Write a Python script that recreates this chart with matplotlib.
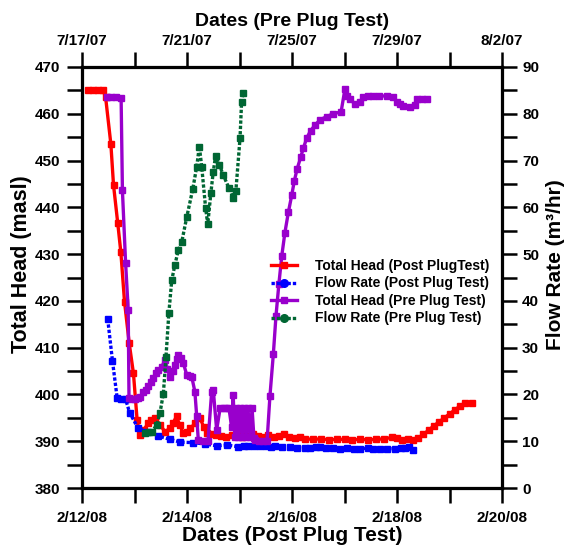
import matplotlib
matplotlib.use("Agg")
import matplotlib.pyplot as plt
from matplotlib.lines import Line2D
from matplotlib.ticker import MultipleLocator
import pandas as pd

plt.rcParams['font.family'] = ['Liberation Sans', 'DejaVu Sans']
plt.rcParams['font.weight'] = 'bold'

# ---------------- data ----------------
# Post plug test (days after 2008-02-12 00:00)
post_head_days = [0.11, 0.2, 0.3, 0.4, 0.45, 0.55, 0.6, 0.68, 0.74, 0.81, 0.9, 0.98,
                  1.05, 1.1, 1.18, 1.26, 1.32, 1.39, 1.49, 1.58, 1.68, 1.74, 1.8, 1.86,
                  1.93, 2.0, 2.06, 2.16, 2.25, 2.32, 2.38, 2.45, 2.55, 2.65, 2.75, 2.85,
                  2.95, 3.05, 3.15, 3.25, 3.35, 3.45, 3.55, 3.65, 3.75, 3.85, 3.95, 4.05,
                  4.15, 4.25, 4.4, 4.55, 4.7, 4.85, 5.0, 5.15, 5.3, 5.45, 5.6, 5.75,
                  5.9, 6.0, 6.1, 6.2, 6.3, 6.4, 6.5, 6.6, 6.7, 6.8, 6.9, 7.0,
                  7.1, 7.2, 7.3, 7.42]
post_head = [465, 465, 465, 465, 463.5, 453.5, 444.8, 436.7, 430.4, 419.8, 410.9, 404.5,
             394.5, 391.3, 392.5, 393.8, 394.5, 394.9, 393.5, 392, 392.8, 394, 395.3, 393.5,
             391.7, 392, 392.8, 393.8, 394.9, 393, 391.7, 391.5, 391.3, 391.2, 391, 391.3,
             391.3, 391, 391.2, 391.5, 391.2, 391, 391.3, 391, 391.2, 391.5, 391, 390.6,
             390.8, 390.5, 390.4, 390.5, 390.3, 390.4, 390.4, 390.3, 390.4, 390.3, 390.4, 390.5,
             390.8, 390.7, 390.3, 390.4, 390.2, 390.6, 391.5, 392.3, 393.3, 394.1, 395, 395.8,
             396.7, 397.5, 398.2, 398.2]

post_flow_days = [0.49, 0.58, 0.67, 0.75, 0.83, 0.91, 1.07, 1.23, 1.45, 1.68, 1.87, 2.12,
                  2.34, 2.57, 2.76, 2.98, 3.08, 3.17, 3.28, 3.39, 3.5, 3.6, 3.68, 3.8,
                  3.96, 4.1, 4.25, 4.35, 4.45, 4.53, 4.65, 4.78, 4.91, 5.05, 5.18, 5.3,
                  5.45, 5.55, 5.68, 5.8, 5.96, 6.08, 6.15, 6.22, 6.3]
post_flow = [36.1, 27.2, 19.2, 19.1, 19.0, 16.0, 12.8, 12.0, 11.1, 10.4, 9.8, 9.7,
             9.4, 9.0, 9.2, 8.8, 9.0, 9.0, 8.9, 9.0, 8.9, 8.8, 8.9, 8.8,
             8.8, 8.6, 8.5, 8.6, 8.8, 8.7, 8.6, 8.5, 8.4, 8.5, 8.4, 8.4,
             8.5, 8.4, 8.4, 8.4, 8.4, 8.5, 8.6, 8.8, 8.2]

# Pre plug test (days after 2007-07-17 00:00)
pre_head_days = [0.94, 1.1, 1.3, 1.49, 1.54, 1.66, 1.76, 1.79, 1.9, 2.02, 2.12, 2.21,
                 2.34, 2.43, 2.53, 2.62, 2.72, 2.81, 2.91, 3.04, 3.16, 3.25, 3.35, 3.45,
                 3.54, 3.6, 3.67, 3.76, 3.86, 3.99, 4.1, 4.18, 4.3, 4.37, 4.43, 4.62,
                 4.8, 4.94, 5.0, 5.13, 5.26, 5.4, 5.49, 5.6, 5.7, 5.76, 5.82, 5.88,
                 5.95, 6.02, 6.1, 6.17, 6.25, 6.32, 6.4, 6.48, 6.55, 6.6, 6.75, 6.9,
                 7.05, 7.16, 7.29, 7.39, 7.5, 7.61, 7.73,
                 7.86, 7.99, 8.09, 8.2, 8.33, 8.43, 8.56, 8.71, 8.88, 9.07, 9.32, 9.57,
                 9.87, 10.02, 10.08, 10.21, 10.4, 10.59, 10.72, 10.9, 11.1, 11.3, 11.61, 11.86,
                 11.99, 12.1, 12.24, 12.5, 12.69, 12.75, 12.95, 13.13]
pre_head = [463.5, 463.5, 463.5, 463.4, 443.6, 428.2, 418.1, 399.3, 399, 399, 399.2, 399.4,
            400.6, 401, 401.7, 402.7, 403.5, 404.5, 405.3, 405.9, 407.4, 405.5, 403.8, 405,
            406.3, 407.5, 408.4, 407.8, 406.7, 404.2, 404, 403.8, 400.6, 395.3, 390.3, 390,
            390, 400.6, 401, 392.4, 397, 397, 397.2, 397, 393, 399.8, 391, 397,
            390.8, 397.2, 391, 397, 390.8, 397.2, 391, 397, 390.7, 390.2, 390, 390,
            390, 399.7, 408.7, 416.8, 423.6, 429.6, 434.6,
            438.9, 442.6, 445.7, 448.3, 450.7, 452.6, 454.8, 456.4, 457.6, 458.7, 459.4, 460,
            460.4, 465.4, 463.7, 463.1, 462.1, 462.6, 463.5, 463.7, 463.8, 463.8, 463.8, 463.5,
            462.6, 462, 461.7, 461.4, 461.9, 463.1, 463.1, 463.1]

pre_flow_days = [2.4, 2.55, 2.66, 2.85, 2.97, 3.1, 3.2, 3.31, 3.42, 3.54, 3.67, 3.8,
                 3.99, 4.22, 4.37, 4.47, 4.56, 4.71, 4.79, 4.91, 5.0, 5.09, 5.23, 5.38,
                 5.6, 5.76, 5.86, 6.02, 6.08, 6.14]
pre_flow = [11.8, 11.9, 12.0, 13.5, 16.0, 20.2, 28.1, 37.5, 44.5, 47.7, 50.9, 52.6,
            57.9, 63.9, 68.7, 73.0, 68.7, 59.8, 56.4, 63.1, 67.6, 71.0, 69.1, 66.9,
            64.1, 62.0, 63.4, 74.8, 82.6, 84.4]

post_start = "2008-02-12"
post_end = "2008-02-20"
pre_start = "2007-07-17"
pre_end = "2007-08-02"
bottom_tick_labels = ["2/12/08", "2/14/08", "2/16/08", "2/18/08", "2/20/08"]
top_tick_labels = ["7/17/07", "7/21/07", "7/25/07", "7/29/07", "8/2/07"]
series_names = ["Total Head (Post PlugTest)", "Flow Rate (Post Plug Test)",
                "Total Head (Pre Plug Test)", "Flow Rate (Pre Plug Test)"]

RED = "#FF0000"
BLUE = "#0000FF"
PURPLE = "#9900CC"
GREEN = "#006633"


def to_dates(start, days):
    return pd.Timestamp(start) + pd.to_timedelta(days, unit="D")


# ---------------- figure ----------------
fig = plt.figure(figsize=(5.66, 5.5), dpi=100)
pos = [82 / 566, 1 - 488 / 550, (502 - 82) / 566, (488 - 67) / 550]
ax = fig.add_axes(pos)
axr = ax.twinx()
axt = ax.twiny()
axtr = axt.twinx()

# post plug test
ax.plot(to_dates(post_start, post_head_days), post_head, color=RED, lw=2.4,
        marker="s", ms=5, mec=RED, zorder=3)
axr.plot(to_dates(post_start, post_flow_days), post_flow, color=BLUE, lw=2.4,
         ls=(0, (1, 0.6)), marker="s", ms=5, mec=BLUE)
# pre plug test
axt.plot(to_dates(pre_start, pre_head_days), pre_head, color=PURPLE, lw=2.4,
         marker="s", ms=5, mec=PURPLE)
axtr.plot(to_dates(pre_start, pre_flow_days), pre_flow, color=GREEN, lw=2.4,
          ls=(0, (1, 0.6)), marker="s", ms=5, mec=GREEN)

# limits
b0, b1 = pd.Timestamp(post_start), pd.Timestamp(post_end)
t0, t1 = pd.Timestamp(pre_start), pd.Timestamp(pre_end)
ax.set_xlim(b0, b1)
axt.set_xlim(t0, t1)
ax.set_ylim(380, 470)
axt.set_ylim(380, 470)
axr.set_ylim(0, 90)
axtr.set_ylim(0, 90)

# ticks
ax.set_xticks(pd.date_range(b0, b1, freq="2D"))
ax.set_xticks(pd.date_range(b0, b1, freq="1D"), minor=True)
ax.set_xticklabels(bottom_tick_labels)
axt.set_xticks(pd.date_range(t0, t1, freq="4D"))
axt.set_xticks(pd.date_range(t0, t1, freq="2D"), minor=True)
axt.set_xticklabels(top_tick_labels)
ax.yaxis.set_major_locator(MultipleLocator(10))
ax.yaxis.set_minor_locator(MultipleLocator(5))
axr.yaxis.set_major_locator(MultipleLocator(10))
axr.yaxis.set_minor_locator(MultipleLocator(5))

tick_kw = dict(direction="out", length=10.5, width=1.8, labelsize=11)
ax.tick_params(axis="x", which="both", pad=6, **tick_kw)
ax.tick_params(axis="y", which="both", pad=5, **tick_kw)
axr.tick_params(axis="y", which="both", pad=4, **tick_kw)
axt.tick_params(axis="x", which="both", pad=3, **tick_kw)
axt.tick_params(axis="y", which="both", left=False, labelleft=False)
axtr.tick_params(axis="y", which="both", right=False, labelright=False)
for a in (ax, axr, axt):
    for lab in a.get_xticklabels() + a.get_yticklabels():
        lab.set_fontweight("bold")

for a in (ax, axr, axt, axtr):
    for s in a.spines.values():
        s.set_linewidth(2.2)
    a.patch.set_visible(False)

ax.set_xlabel("Dates (Post Plug Test)", fontsize=15, fontweight="bold", labelpad=1)
axt.set_xlabel("Dates (Pre Plug Test)", fontsize=14, fontweight="bold", labelpad=6)
ax.set_ylabel("Total Head (masl)", fontsize=15.5, fontweight="bold")
axr.set_ylabel("Flow Rate (m³/hr)", fontsize=15, fontweight="bold")
ax.yaxis.set_label_coords((32 - 82) / 420, (488 - 264) / 421)
axr.yaxis.set_label_coords((546 - 82) / 420, (488 - 265) / 421)

# legend
handles = [
    Line2D([], [], color=RED, lw=2.4, marker="s", ms=5),
    Line2D([], [], color=BLUE, lw=2.4, ls=(0, (1, 0.6)), marker="o", ms=5.5),
    Line2D([], [], color=PURPLE, lw=2.4, marker="s", ms=5),
    Line2D([], [], color=GREEN, lw=2.4, ls=(0, (1, 0.6)), marker="o", ms=5.5),
]
leg = axtr.legend(handles, series_names, loc="upper left",
                  bbox_to_anchor=(271 / 566, 1 - 259 / 550), bbox_transform=fig.transFigure,
                  frameon=False, handlelength=1.9, handletextpad=1.3,
                  labelspacing=0.25, borderpad=0, borderaxespad=0,
                  prop={"weight": "bold", "size": 10})

fig.savefig("out.png", dpi=100)
